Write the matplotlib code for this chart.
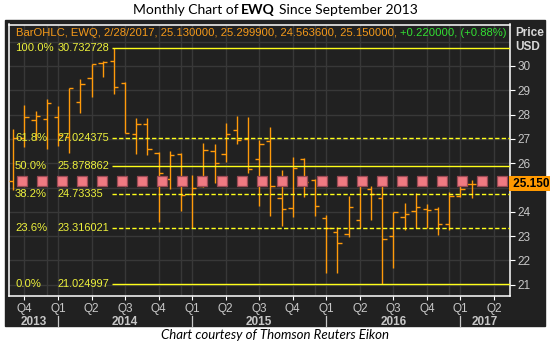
import matplotlib
matplotlib.use("Agg")
import matplotlib.pyplot as plt
import numpy as np
import pandas as pd
from matplotlib.patches import Rectangle
from matplotlib.transforms import offset_copy

plt.rcParams["lines.scale_dashes"] = False

# ---- monthly OHLC bars, EWQ ----
MONTHS = pd.period_range("2013-09", "2017-02", freq="M")
OPEN = [25.29, 27.05, 27.78, 27.81, 27.89, 27.10, 28.51, 29.49, 30.11, 30.21,
        29.31, 27.19, 27.60, 26.41, 25.34, 26.37, 24.72, 25.06, 26.49, 26.37,
        27.37, 27.01, 26.16, 26.93, 24.56, 24.15, 26.16, 25.30, 23.73, 23.16,
        23.08, 23.65, 24.93, 24.56, 23.02, 23.78, 24.02, 24.10, 24.10, 23.49,
        24.66, 25.13]
HIGH = [27.40, 28.39, 28.16, 28.63, 28.37, 29.08, 29.45, 30.10, 30.22, 30.732728,
        29.35, 27.85, 27.85, 26.45, 26.50, 26.43, 25.52, 26.84, 26.79, 27.67,
        27.94, 27.91, 26.96, 27.48, 25.72, 26.24, 26.20, 25.35, 23.87, 23.39,
        24.65, 25.35, 25.06, 25.20, 23.98, 24.35, 24.76, 24.31, 24.19, 24.83,
        25.13, 25.2999]
LOW = [24.90, 26.66, 26.96, 26.57, 26.71, 26.41, 28.05, 28.74, 29.54, 28.84,
       27.23, 26.40, 26.34, 23.60, 24.93, 24.05, 23.32, 25.01, 25.17, 26.07,
       26.78, 25.59, 24.25, 23.84, 23.42, 23.80, 24.60, 23.84, 21.50, 21.50,
       22.98, 23.32, 23.67, 21.024997, 21.70, 23.25, 23.32, 23.32, 23.05, 23.25,
       24.62, 24.5636]
CLOSE = [27.05, 27.89, 27.94, 28.49, 27.15, 29.08, 29.26, 30.08, 30.18, 29.15,
         27.23, 27.60, 26.57, 25.59, 26.35, 24.70, 24.97, 26.53, 26.00, 27.19,
         26.94, 25.75, 26.78, 25.06, 24.10, 25.79, 25.22, 24.24, 23.35, 22.71,
         24.19, 25.20, 24.72, 22.87, 23.98, 23.90, 24.19, 24.06, 23.49, 24.66,
         24.93, 25.15]

# ---- Fibonacci retracement levels ----
FIB_PCT = ["100.0%", "61.8%", "50.0%", "38.2%", "23.6%", "0.0%"]
FIB_TEXT = ["30.732728", "27.024375", "25.878862", "24.73335", "23.316021", "21.024997"]
FIB_LEVEL = [30.732728, 27.024375, 25.878862, 24.73335, 23.316021, 21.024997]
FIB_DASHED = [False, True, False, True, True, False]

MARKER_LEVEL = 25.29
PRICE_TICKS = [21, 22, 23, 24, 25, 26, 27, 28, 29, 30]
GRID_LEVELS = [21, 22, 23, 24, 25, 26, 27, 28, 29, 30, 31]

BG = "#212121"
GRID = "#383838"
ORANGE = "#ff9a0a"
FIB_COL = "#ffff1a"
FIB_TXT = "#eef23c"
AXTXT = "#c8c8c8"

W, H = 550, 344


def fx(px):
    return px / W


def fy(py):
    return 1 - py / H


fig = plt.figure(figsize=(W / 100, H / 100), dpi=100)
fig.patches.append(Rectangle((fx(5), fy(326)), fx(545) - fx(5), fy(20) - fy(326),
                             transform=fig.transFigure, color=BG, zorder=-1))

ax = fig.add_axes([fx(8.8), fy(296.4), fx(510) - fx(8.8), fy(24.5) - fy(296.4)])
ax.set_facecolor(BG)
ax.set_xlim(-0.40, 44.43)
ax.set_ylim(20.523, 31.707)

x = np.arange(len(MONTHS))
start = MONTHS[0]


def idx(p):
    return (p - start).n


# grid: every dollar, quarter starts plus December
for lv in GRID_LEVELS:
    ax.axhline(lv, color=GRID, lw=1.0, zorder=1)
axis_months = pd.period_range("2013-09", "2017-04", freq="M")
for p in axis_months:
    if p.month in (1, 4, 7, 10, 12):
        ax.axvline(idx(p), color=GRID, lw=1.0, zorder=1)

# OHLC bars
tk = 0.385
ax.vlines(x, LOW, HIGH, color=ORANGE, lw=1.0, zorder=3)
ax.hlines(OPEN, x - tk, x, color=ORANGE, lw=1.0, zorder=3)
ax.hlines(CLOSE, x, x + tk, color=ORANGE, lw=1.0, zorder=3)

# fib lines from the swing high to the right edge
x0 = x[int(np.argmax(HIGH))] - 0.15
for lv, pct, txt, dashed in zip(FIB_LEVEL, FIB_PCT, FIB_TEXT, FIB_DASHED):
    ls = (0, (3.1, 1.65)) if dashed else "-"
    ax.hlines(lv, x0, ax.get_xlim()[1], color=FIB_COL, lw=1.0, linestyles=[ls], zorder=4)
    tr = ax.get_yaxis_transform()
    ax.text(0.0124, lv, pct, transform=tr, color=FIB_TXT, va="center", ha="left",
            fontsize=8.1, family="Liberation Sans", zorder=5)
    ax.text(0.0972, lv, txt, transform=tr, color=FIB_TXT, va="center", ha="left",
            fontsize=7.9, family="Liberation Sans", zorder=5)

# square marker line
xl = ax.get_xlim()
px_per_unit = (510 - 8.8) / (xl[1] - xl[0])
sq_x = xl[0] + np.arange(13.5, 500.0, 20.0) / px_per_unit
ax.plot(sq_x, np.full(len(sq_x), MARKER_LEVEL), ls="none", marker="s", ms=6.6,
        mfc="#f07a82", mec="#9c4a54", mew=0.9, zorder=6)

# header line: OHLC in orange, change in green right after it
last = MONTHS[-1].end_time
chg = CLOSE[-1] - CLOSE[-2]
head = (f"BarOHLC, EWQ, {last.month}/{last.day}/{last.year}, {OPEN[-1]:.6f}, "
        f"{HIGH[-1]:.6f}, {LOW[-1]:.6f}, {CLOSE[-1]:.6f},")
head_y = 0.956
t_head = ax.text(0.0144, head_y, head, transform=ax.transAxes, color="#f59a1a",
                 fontsize=8.1, family="Liberation Sans", va="baseline", ha="left")
renderer = fig.canvas.get_renderer()
head_w = t_head.get_window_extent(renderer).width
ax.text(0.0144, head_y, f"{chg:+.6f}, ({chg / CLOSE[-2] * 100:+.2f}%)",
        transform=offset_copy(ax.transAxes, fig, x=head_w + 3.0, units="dots"),
        color="#33e033", fontsize=8.1, family="Liberation Sans",
        va="baseline", ha="left")

# right price axis; the 25 label sits under the last-price tag
ax.yaxis.tick_right()
ax.set_yticks(PRICE_TICKS)
ax.set_yticklabels(["" if v == 25 else str(v) for v in PRICE_TICKS])
ax.tick_params(axis="y", colors="white", labelcolor=AXTXT, length=3.6, width=0.8,
               pad=1.5, labelsize=8.5)

# quarter axis
qpos = [idx(p) for p in axis_months if p.month in (1, 4, 7, 10)]
qlab = [f"Q{p.quarter}" for p in axis_months if p.month in (1, 4, 7, 10)]
ax.set_xticks(qpos)
ax.set_xticklabels(qlab)
ax.tick_params(axis="x", colors="white", labelcolor=AXTXT, length=3, width=0.8,
               pad=2, labelsize=8.5)
for lab in ax.get_xticklabels() + ax.get_yticklabels():
    lab.set_family("Liberation Sans")

for sp in ax.spines.values():
    sp.set_color("white")
    sp.set_linewidth(1.1)

# year row
xtr = ax.get_xaxis_transform()
for yr in range(2013, 2018):
    a = max(idx(pd.Period(f"{yr}-01", freq="M")), xl[0])
    b = min(idx(pd.Period(f"{yr + 1}-01", freq="M")), xl[1])
    ax.text((a + b) / 2, -0.094, str(yr), transform=xtr, ha="center", va="center",
            color=AXTXT, fontsize=8.5, fontweight="bold", family="Liberation Sans")
    if yr > 2013:
        ax.plot([a, a], [-0.072, -0.1087], transform=xtr, color=AXTXT, lw=0.9,
                clip_on=False)

# last price tag
ax.text(1.0, CLOSE[-1], f" {CLOSE[-1]:.3f}", transform=ax.get_yaxis_transform(),
        ha="left", va="center", color="black", fontsize=8.5, fontweight="bold",
        family="Liberation Sans", zorder=10, clip_on=False,
        bbox=dict(boxstyle="square,pad=0.12", fc="#ff9900", ec="none"))

fig.text(fx(515), fy(32.5), "Price", color="#d8d8d8", fontsize=8.5, fontweight="bold",
         family="Liberation Sans", va="center", ha="left")
fig.text(fx(515), fy(47.5), "USD", color="#d8d8d8", fontsize=8.5, fontweight="bold",
         family="Liberation Sans", va="center", ha="left")

# title and credit
ty = fy(10.5)
fig.text(fx(239), ty, "Monthly Chart of", ha="right", va="center", fontsize=10,
         family="Lato", color="black")
fig.text(fx(258), ty, "EWQ", ha="center", va="center", fontsize=10,
         family="Lato", fontweight="bold", color="black")
fig.text(fx(279), ty, "Since September 2013", ha="left", va="center", fontsize=10,
         family="Lato", color="black")
fig.text(0.5, fy(335), "Chart courtesy of Thomson Reuters Eikon", ha="center",
         va="center", fontsize=9.5, style="italic", family="Lato", color="black")

fig.savefig("out.png", dpi=100, facecolor="white")
